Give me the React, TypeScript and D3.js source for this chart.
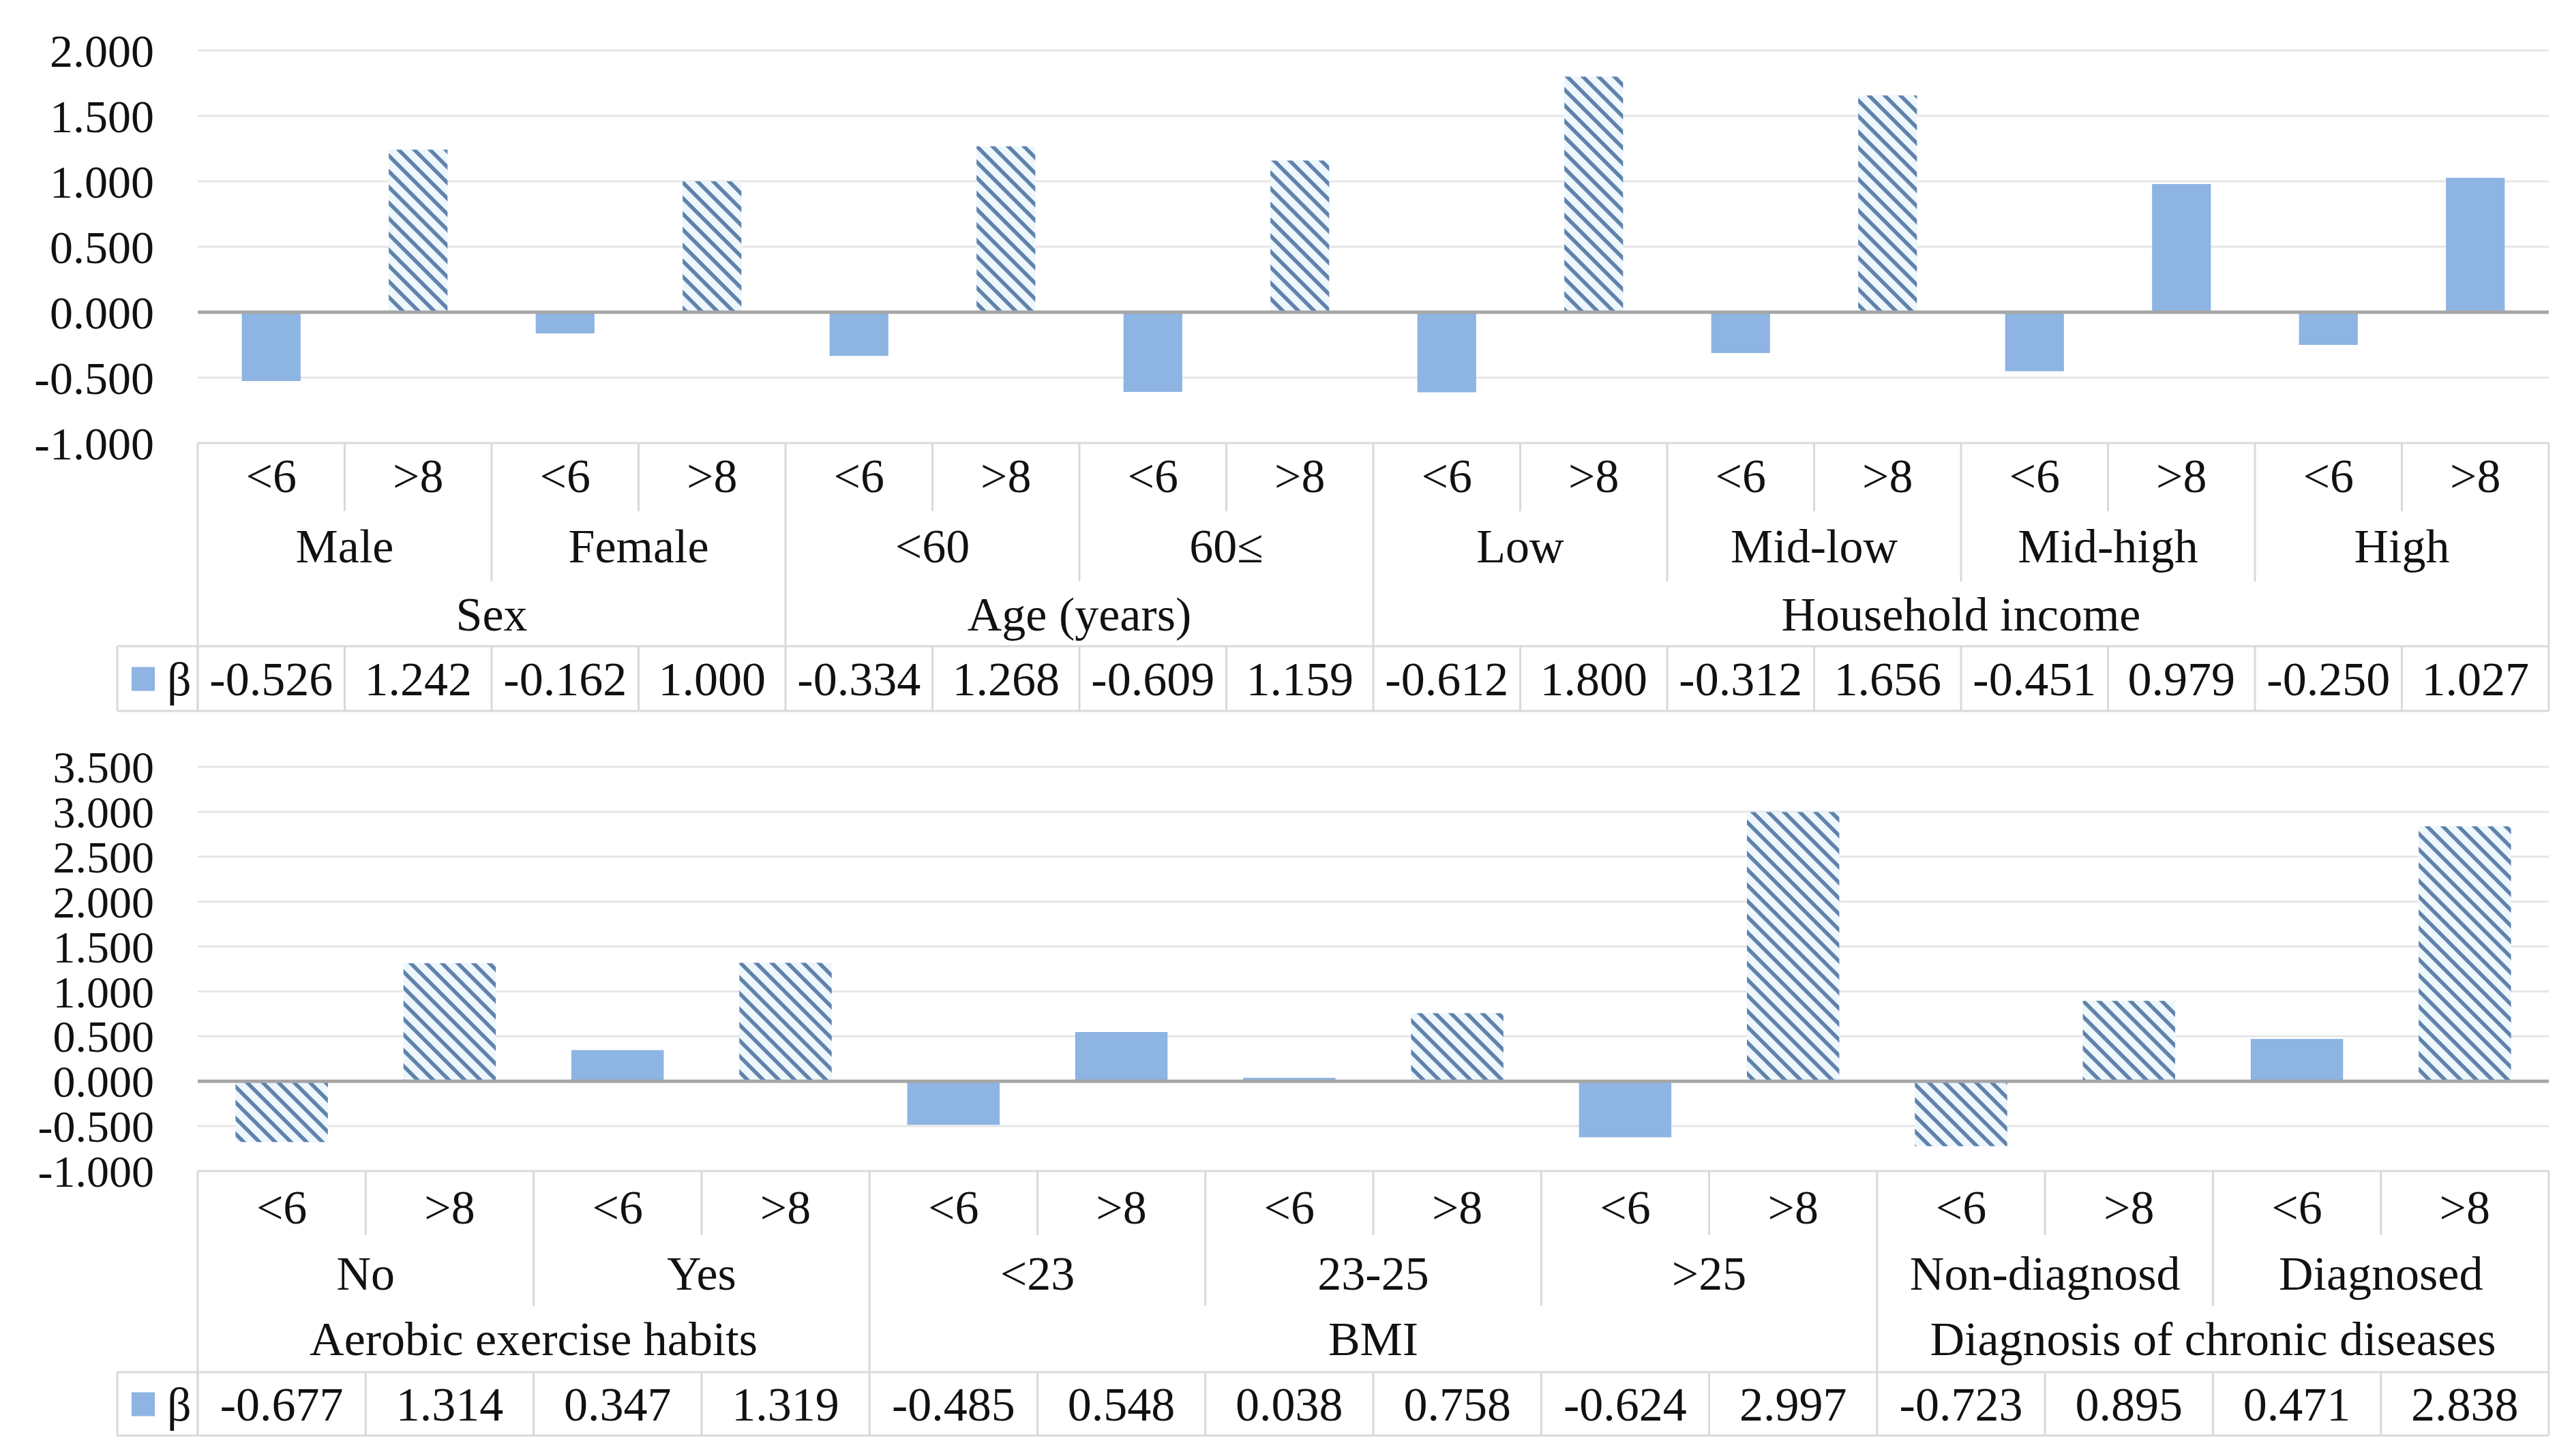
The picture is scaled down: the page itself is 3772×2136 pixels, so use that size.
import React from 'react';
import * as d3 from 'd3';

// ---- top panel data ----
const topSubLabels = ['<6', '>8', '<6', '>8', '<6', '>8', '<6', '>8', '<6', '>8', '<6', '>8', '<6', '>8', '<6', '>8'];
const topGroups = ['Male', 'Female', '<60', '60≤', 'Low', 'Mid-low', 'Mid-high', 'High'];
const topGroupSizes = [2, 2, 2, 2, 2, 2, 2, 2];
const topCategories = ['Sex', 'Age (years)', 'Household income'];
const topCategorySizes = [2, 2, 4]; // in groups
const topValues = [-0.526, 1.242, -0.162, 1.0, -0.334, 1.268, -0.609, 1.159, -0.612, 1.8, -0.312, 1.656, -0.451, 0.979, -0.25, 1.027];
const topHatched = [false, true, false, true, false, true, false, true, false, true, false, true, false, false, false, false];
const topTicks = [-1, -0.5, 0, 0.5, 1, 1.5, 2];

// ---- bottom panel data ----
const bottomSubLabels = ['<6', '>8', '<6', '>8', '<6', '>8', '<6', '>8', '<6', '>8', '<6', '>8', '<6', '>8'];
const bottomGroups = ['No', 'Yes', '<23', '23-25', '>25', 'Non-diagnosd', 'Diagnosed'];
const bottomGroupSizes = [2, 2, 2, 2, 2, 2, 2];
const bottomCategories = ['Aerobic exercise habits', 'BMI', 'Diagnosis of chronic diseases'];
const bottomCategorySizes = [2, 3, 2];
const bottomValues = [-0.677, 1.314, 0.347, 1.319, -0.485, 0.548, 0.038, 0.758, -0.624, 2.997, -0.723, 0.895, 0.471, 2.838];
const bottomHatched = [true, true, false, true, false, false, false, true, false, true, true, true, false, true];
const bottomTicks = [-1, -0.5, 0, 0.5, 1, 1.5, 2, 2.5, 3, 3.5];

const W = 3772;
const H = 2136;
const LEFT = 290;
const RIGHT = 3738;
const FONT = '"Liberation Serif", "Times New Roman", serif';
const SOLID = '#8db4e2';
const TABLE_LINE = '#d9d9d9';
// plain hyphen for negatives, like the original
const fmt = d3.formatLocale({ decimal: '.', thousands: ',', grouping: [3], currency: ['', ''], minus: '-' }).format('.3f');

type PanelProps = {
  subs: string[];
  groups: string[];
  groupSizes: number[];
  cats: string[];
  catSizes: number[];
  values: number[];
  hatched: boolean[];
  ticks: number[];
  yTop: number;
  yBottom: number;
  barFrac: number;
  rows: { sub: number; group: number; cat: number; legTop: number; legBottom: number; subEnd: number; groupEnd: number };
  tickFont: number;
};

const Panel = ({ subs, groups, groupSizes, cats, catSizes, values, hatched, ticks, yTop, yBottom, barFrac, rows, tickFont }: PanelProps) => {
  const idx = values.map((_, i) => String(i));
  const inner = 1 - barFrac;
  const x = d3.scaleBand().domain(idx).range([LEFT, RIGHT]).paddingInner(inner).paddingOuter(inner / 2);
  const step = x.step();
  const y = d3.scaleLinear().domain([ticks[0], ticks[ticks.length - 1]]).range([yBottom, yTop]);
  const tableTop = yBottom;

  // group boundaries in column index
  const groupStarts: number[] = [];
  let acc = 0;
  groupSizes.forEach(s => { groupStarts.push(acc); acc += s; });
  const catStarts: number[] = [];
  let g = 0;
  catSizes.forEach(s => { catStarts.push(groupStarts[g]); g += s; });
  const catEnds = catSizes.map((s, i) => (i + 1 < catStarts.length ? catStarts[i + 1] : values.length));
  const colX = (i: number) => LEFT + i * step;

  return (
    <g>
      {/* gridlines */}
      {ticks.slice(1).filter(t => t !== 0).map(t => (
        <line key={'g' + t} x1={LEFT} x2={RIGHT} y1={y(t)} y2={y(t)} stroke="#e6e6e6" strokeWidth={3} />
      ))}
      {/* tick labels */}
      {ticks.map(t => (
        <text key={'t' + t} x={226} y={y(t)} dy="0.35em" textAnchor="end" fontSize={tickFont} fontFamily={FONT} fill="#111">
          {fmt(t)}
        </text>
      ))}
      {/* bars */}
      {values.map((v, i) => (
        <rect
          key={'b' + i}
          x={x(String(i))}
          width={x.bandwidth()}
          y={Math.min(y(v), y(0))}
          height={Math.abs(y(v) - y(0))}
          fill={hatched[i] ? 'url(#hatch)' : SOLID}
        />
      ))}
      {/* zero line */}
      <line x1={LEFT} x2={RIGHT} y1={y(0)} y2={y(0)} stroke="#a6a6a6" strokeWidth={5} />

      {/* category table */}
      <line x1={LEFT} x2={RIGHT} y1={tableTop} y2={tableTop} stroke={TABLE_LINE} strokeWidth={3} />
      {values.map((_, i) => {
        if (i === 0) return null;
        const isCat = catStarts.includes(i);
        const isGroup = groupStarts.includes(i);
        const end = isCat ? rows.legTop : isGroup ? rows.groupEnd : rows.subEnd;
        return <line key={'s' + i} x1={colX(i)} x2={colX(i)} y1={tableTop} y2={end} stroke={TABLE_LINE} strokeWidth={3} />;
      })}
      <line x1={LEFT} x2={LEFT} y1={tableTop} y2={rows.legBottom} stroke={TABLE_LINE} strokeWidth={3} />
      <line x1={RIGHT} x2={RIGHT} y1={tableTop} y2={rows.legBottom} stroke={TABLE_LINE} strokeWidth={3} />

      {subs.map((s, i) => (
        <text key={'sl' + i} x={colX(i) + step / 2} y={rows.sub} dy="0.35em" textAnchor="middle" fontSize={70} fontFamily={FONT} fill="#111">
          {s}
        </text>
      ))}
      {groups.map((gName, i) => (
        <text key={'gl' + i} x={colX(groupStarts[i]) + (groupSizes[i] * step) / 2} y={rows.group} dy="0.35em" textAnchor="middle" fontSize={70} fontFamily={FONT} fill="#111">
          {gName}
        </text>
      ))}
      {cats.map((c, i) => (
        <text key={'cl' + i} x={(colX(catStarts[i]) + colX(catEnds[i])) / 2} y={rows.cat} dy="0.35em" textAnchor="middle" fontSize={70} fontFamily={FONT} fill="#111">
          {c}
        </text>
      ))}

      {/* data table row */}
      <line x1={172} x2={RIGHT} y1={rows.legTop} y2={rows.legTop} stroke={TABLE_LINE} strokeWidth={3} />
      <line x1={172} x2={RIGHT} y1={rows.legBottom} y2={rows.legBottom} stroke={TABLE_LINE} strokeWidth={3} />
      <line x1={172} x2={172} y1={rows.legTop} y2={rows.legBottom} stroke={TABLE_LINE} strokeWidth={3} />
      {values.map((_, i) => (
        <line key={'v' + i} x1={colX(i)} x2={colX(i)} y1={rows.legTop} y2={rows.legBottom} stroke={TABLE_LINE} strokeWidth={3} />
      ))}
      <rect x={193} y={(rows.legTop + rows.legBottom) / 2 - 17} width={34} height={35} fill={SOLID} />
      <text x={245} y={(rows.legTop + rows.legBottom) / 2} dy="0.35em" fontSize={70} fontFamily={FONT} fill="#111">β</text>
      {values.map((v, i) => (
        <text key={'vl' + i} x={colX(i) + step / 2} y={(rows.legTop + rows.legBottom) / 2} dy="0.35em" textAnchor="middle" fontSize={70} fontFamily={FONT} fill="#111">
          {fmt(v)}
        </text>
      ))}
    </g>
  );
};

export default function App() {
  return (
    <svg width={W} height={H} viewBox={`0 0 ${W} ${H}`} style={{ position: 'absolute', left: 0, top: 0, background: '#fff' }}>
      <defs>
        <pattern id="hatch" patternUnits="userSpaceOnUse" width={16.3} height={16.3} patternTransform="rotate(45)">
          <rect width={16.3} height={16.3} fill="#eef7fc" />
          <rect width={16.3} height={5.6} fill="#5f82ab" />
        </pattern>
      </defs>
      <rect width={W} height={H} fill="#fff" />
      <Panel
        subs={topSubLabels}
        groups={topGroups}
        groupSizes={topGroupSizes}
        cats={topCategories}
        catSizes={topCategorySizes}
        values={topValues}
        hatched={topHatched}
        ticks={topTicks}
        yTop={74}
        yBottom={650}
        barFrac={0.4}
        tickFont={68}
        rows={{ sub: 697, group: 800, cat: 900, legTop: 948, legBottom: 1043, subEnd: 750, groupEnd: 853 }}
      />
      <Panel
        subs={bottomSubLabels}
        groups={bottomGroups}
        groupSizes={bottomGroupSizes}
        cats={bottomCategories}
        catSizes={bottomCategorySizes}
        values={bottomValues}
        hatched={bottomHatched}
        ticks={bottomTicks}
        yTop={1125}
        yBottom={1718}
        barFrac={0.55}
        tickFont={66}
        rows={{ sub: 1770, group: 1867, cat: 1963, legTop: 2013, legBottom: 2106, subEnd: 1812, groupEnd: 1916 }}
      />
    </svg>
  );
}
